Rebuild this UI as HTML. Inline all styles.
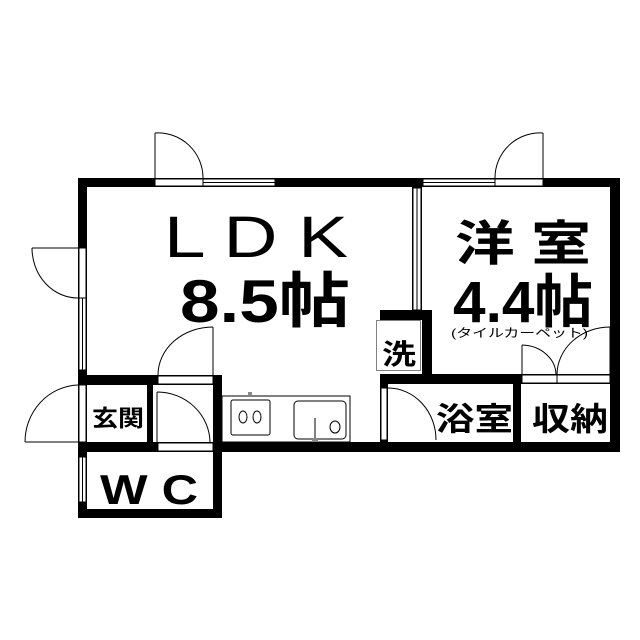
<!DOCTYPE html>
<html><head><meta charset="utf-8"><style>
html,body{margin:0;padding:0;background:#fff;}
svg{display:block}
text{font-family:"Liberation Sans","Noto Sans CJK JP",sans-serif;fill:#000}
</style></head><body>
<svg width="640" height="640" viewBox="0 0 640 640" xmlns="http://www.w3.org/2000/svg">
<g fill="#000">
<rect x="78" y="178" width="542" height="9"/>
<rect x="78" y="178" width="9" height="340"/>
<rect x="610" y="178" width="10" height="274"/>
<rect x="213" y="442" width="407" height="10"/>
<rect x="78" y="509" width="144" height="9"/>
<rect x="213" y="375" width="9" height="143"/>
<rect x="78" y="375" width="144" height="10"/>
<rect x="78" y="442" width="144" height="10"/>
<rect x="147" y="375" width="6" height="77"/>
<rect x="412" y="178" width="10" height="142"/>
<rect x="380" y="310" width="52" height="10"/>
<rect x="422" y="310" width="10" height="73"/>
<rect x="380" y="374" width="240" height="10"/>
<rect x="380" y="374" width="8" height="78"/>
<rect x="513" y="374" width="8" height="78"/>
</g>
<g fill="#fff" stroke="#000" stroke-width="1">
<rect x="155" y="179" width="48" height="7"/>
<rect x="203" y="179" width="72" height="7"/>
<line x1="203" y1="182.5" x2="275" y2="182.5"/>
<rect x="423" y="179" width="72" height="7"/>
<line x1="423" y1="182.5" x2="495" y2="182.5"/>
<rect x="495" y="179" width="48" height="7"/>
<rect x="79" y="248" width="7" height="50"/>
<rect x="79" y="298" width="7" height="72"/>
<line x1="82.5" y1="298" x2="82.5" y2="370"/>
<rect x="79" y="385" width="7" height="57"/>
<rect x="79" y="457" width="7" height="45"/>
<line x1="82.5" y1="457" x2="82.5" y2="502"/>
<rect x="413" y="188" width="8" height="122"/>
<line x1="417" y1="188" x2="417" y2="310"/>
<rect x="158" y="376" width="55" height="8"/>
<rect x="158" y="443" width="55" height="8"/>
<rect x="381" y="388" width="6" height="52"/>
<rect x="522" y="375" width="88" height="8"/>
<rect x="222" y="396" width="128" height="46"/>
<rect x="231" y="400" width="39" height="35" rx="2"/>
<rect x="294" y="401" width="52" height="38" rx="4"/>
</g>
<g fill="none" stroke="#000" stroke-width="1">
<line x1="155" y1="178" x2="155" y2="133"/>
<path d="M155 133 A45 45 0 0 1 203 178"/>
<line x1="543" y1="178" x2="543" y2="133"/>
<path d="M543 133 A45 45 0 0 0 495 178"/>
<line x1="78" y1="248" x2="32" y2="248"/>
<path d="M32 248 A46 50 0 0 0 78 298"/>
<line x1="78" y1="442" x2="25" y2="442"/>
<path d="M25 442 A55 57 0 0 1 78 385"/>
<line x1="213" y1="375" x2="213" y2="327"/>
<path d="M213 327 A55 48 0 0 0 158 375"/>
<line x1="157" y1="392" x2="157" y2="443"/>
<path d="M157 392 A53 51 0 0 1 210 443"/>
<path d="M388 388 A48 52 0 0 1 436 440"/>
<line x1="522" y1="375" x2="522" y2="345"/>
<path d="M522 345 A35 30 0 0 1 556 375"/>
<line x1="610" y1="375" x2="610" y2="327"/>
<path d="M610 327 A53 48 0 0 0 557 375"/>
<line x1="557" y1="375" x2="557" y2="383"/>
<rect x="376.5" y="320.5" width="44" height="50" stroke-dasharray="1,1"/>
<ellipse cx="243" cy="417" rx="4" ry="6"/><ellipse cx="257" cy="417" rx="4" ry="6"/>
<line x1="315" y1="418" x2="315" y2="440"/>
<ellipse cx="335" cy="427" rx="5" ry="6"/>
</g>
<rect x="248" y="392" width="4" height="4" fill="#888"/>
<rect x="312" y="438" width="6" height="4" fill="#888"/>
<text x="164" y="257" font-size="58" textLength="184" lengthAdjust="spacingAndGlyphs">L D K</text>
<text x="180" y="322" font-size="60" font-weight="bold" textLength="170" lengthAdjust="spacingAndGlyphs">8.5帖</text>
<text x="455" y="260" font-size="48" font-weight="bold" textLength="136" lengthAdjust="spacingAndGlyphs">洋 室</text>
<text x="453" y="322" font-size="58" font-weight="bold" textLength="140" lengthAdjust="spacingAndGlyphs">4.4帖</text>
<text x="451" y="337" font-size="12" textLength="137" lengthAdjust="spacingAndGlyphs">(タイルカーペット)</text>
<text x="382" y="364" font-size="28" font-weight="bold" textLength="34" lengthAdjust="spacingAndGlyphs">洗</text>
<text x="92" y="426" font-size="23" font-weight="bold" textLength="52" lengthAdjust="spacingAndGlyphs">玄関</text>
<text x="100" y="504" font-size="42" font-weight="bold" textLength="98" lengthAdjust="spacingAndGlyphs">W C</text>
<text x="436" y="430" font-size="32" font-weight="bold" textLength="77" lengthAdjust="spacingAndGlyphs">浴室</text>
<text x="532" y="430" font-size="32" font-weight="bold" textLength="76" lengthAdjust="spacingAndGlyphs">収納</text>
</svg>
</body></html>
